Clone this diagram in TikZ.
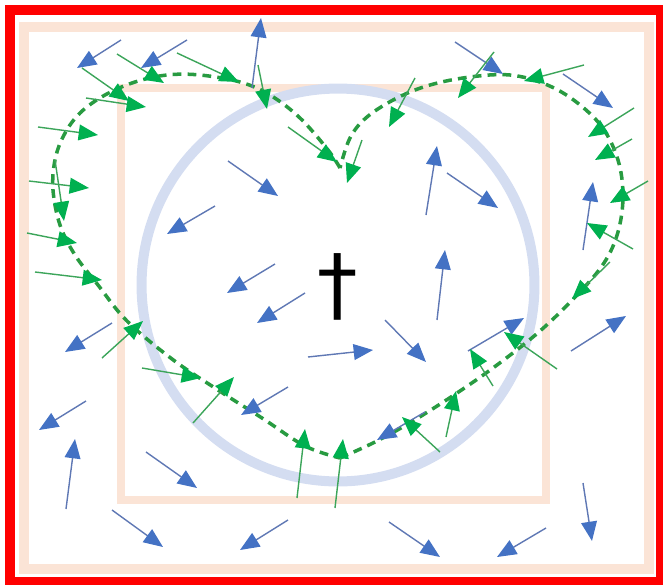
\documentclass[tikz,border=0pt]{standalone}
\usepackage{fontspec}
\usetikzlibrary{arrows.meta}
\newfontfamily\symfont{DejaVu Sans}
\definecolor{framered}{RGB}{255,0,0}
\definecolor{peach}{RGB}{251,228,214}
\definecolor{ringblue}{RGB}{212,221,241}
\definecolor{shaftblue}{RGB}{95,120,180}
\definecolor{tipblue}{RGB}{68,114,196}
\definecolor{shaftgreen}{RGB}{60,165,90}
\definecolor{tipgreen}{RGB}{0,176,80}
\definecolor{heartgreen}{RGB}{40,155,65}
\begin{document}
\begin{tikzpicture}[x=0.02cm, y=-0.02cm,
  bluearr/.style={draw=shaftblue, line width=0.8pt, -{Triangle[length=11pt,width=9pt,color=tipblue]}},
  greenarr/.style={draw=shaftgreen, line width=0.8pt, -{Triangle[length=11pt,width=9pt,color=tipgreen]}},
  heartline/.style={heartgreen, line width=2pt, dash pattern=on 5pt off 3.5pt}]
  \useasboundingbox (0,0) rectangle (663,585);
  % frames and ring
  \draw[peach, line width=6.2pt] (24,27) rectangle (649,569);
  \draw[peach, line width=4pt] (121,88) rectangle (546,500);
  \draw[ringblue, line width=5.7pt] (338,285) circle (3.93cm);
  % heart
  \draw[heartline] plot[smooth, tension=0.6] coordinates {(340,168) (328,150) (300,118) (270,95) (240,82) (200,75) (167,75) (135,82) (105,95) (80,113) (64,135) (55,160) (53,190) (60,225) (75,255) (98,285) (127,321) (172,359) (218,390) (262,418) (305,446) (340,458)};
  \draw[heartline] plot[smooth, tension=0.6] coordinates {(340,458) (375,442) (413,421) (457,393) (497,365) (540,331) (578,294) (604,263) (618,232) (623,196) (618,160) (602,127) (575,101) (545,84) (510,75) (470,77) (430,85) (397,98) (367,117) (350,138) (340,168)};
  % blue arrows
  \draw[bluearr] (121,40) -- (77,68);
  \draw[bluearr] (187,40) -- (141,68);
  \draw[bluearr] (252,88) -- (261,18);
  \draw[bluearr] (455,42) -- (503,74);
  \draw[bluearr] (563,74) -- (613,108);
  \draw[bluearr] (228,161) -- (278,196);
  \draw[bluearr] (215,206) -- (167,234);
  \draw[bluearr] (275,264) -- (227,293);
  \draw[bluearr] (305,293) -- (257,323);
  \draw[bluearr] (426,215) -- (437,146);
  \draw[bluearr] (447,173) -- (498,208);
  \draw[bluearr] (437,320) -- (445,250);
  \draw[bluearr] (583,250) -- (593,182);
  \draw[bluearr] (308,357) -- (373,350);
  \draw[bluearr] (385,320) -- (426,362);
  \draw[bluearr] (468,351) -- (524,318);
  \draw[bluearr] (571,351) -- (626,316);
  \draw[bluearr] (112,323) -- (65,352);
  \draw[bluearr] (86,401) -- (39,430);
  \draw[bluearr] (66,509) -- (75,439);
  \draw[bluearr] (146,452) -- (197,488);
  \draw[bluearr] (112,510) -- (163,547);
  \draw[bluearr] (288,520) -- (240,550);
  \draw[bluearr] (288,387) -- (241,415);
  \draw[bluearr] (425,412) -- (377,440);
  \draw[bluearr] (389,522) -- (440,557);
  \draw[bluearr] (546,528) -- (497,557);
  \draw[bluearr] (583,483) -- (592,541);
  % green arrows
  \draw[greenarr] (82,68) -- (129,101);
  \draw[greenarr] (117,54) -- (164,83);
  \draw[greenarr] (177,53) -- (239,82);
  \draw[greenarr] (86,98) -- (146,107);
  \draw[greenarr] (38,127) -- (98,135);
  \draw[greenarr] (55,160) -- (64,221);
  \draw[greenarr] (29,181) -- (89,188);
  \draw[greenarr] (27,233) -- (77,243);
  \draw[greenarr] (35,272) -- (102,280);
  \draw[greenarr] (258,65) -- (267,109);
  \draw[greenarr] (288,127) -- (337,162);
  \draw[greenarr] (362,140) -- (347,183);
  \draw[greenarr] (415,78) -- (389,127);
  \draw[greenarr] (494,52) -- (458,98);
  \draw[greenarr] (584,65) -- (524,81);
  \draw[greenarr] (634,108) -- (588,137);
  \draw[greenarr] (632,139) -- (595,160);
  \draw[greenarr] (648,181) -- (610,203);
  \draw[greenarr] (633,249) -- (587,223);
  \draw[greenarr] (610,262) -- (572,299);
  \draw[greenarr] (557,369) -- (504,332);
  \draw[greenarr] (493,386) -- (470,349);
  \draw[greenarr] (446,437) -- (456,391);
  \draw[greenarr] (440,452) -- (402,417);
  \draw[greenarr] (335,508) -- (343,439);
  \draw[greenarr] (297,498) -- (305,429);
  \draw[greenarr] (193,423) -- (234,377);
  \draw[greenarr] (142,368) -- (201,378);
  \draw[greenarr] (102,358) -- (143,321);
  % dagger
  \node[inner sep=0pt] (dagger) at (338,287) {\fontsize{46}{48}\selectfont\symfont †};
  % outer frame
  \draw[framered, line width=5.7pt] (10,10) rectangle (661,582);
\end{tikzpicture}
\end{document}
